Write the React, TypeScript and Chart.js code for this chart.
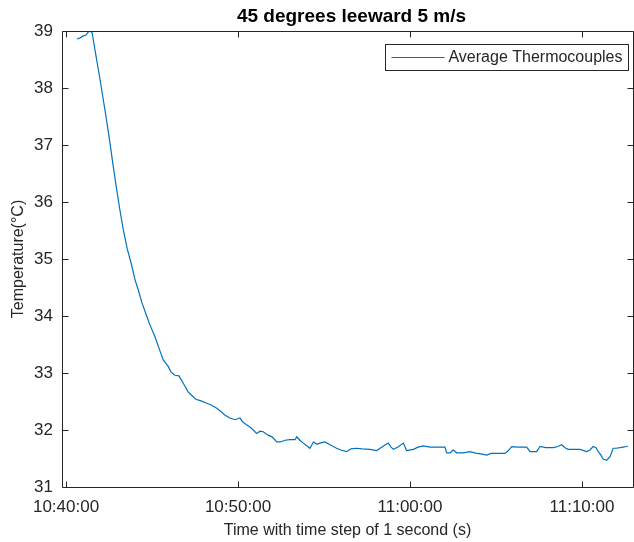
import React, { useEffect, useRef } from "react";
import { Chart, registerables } from "chart.js";

Chart.register(...registerables);

const chartTitle = "45 degrees leeward 5 m/s";
const seriesLabel = "Average Thermocouples";
const xAxisTitle = "Time with time step of 1 second (s)";
const yAxisTitle = "Temperature(°C)";

// Clock time of x = 0 (10:40:00), in seconds after midnight
const clockStart = 10 * 3600 + 40 * 60;

// Sample times, seconds after 10:40:00
const timeSeconds = [
  38, 49, 59, 70, 77, 84, 91, 101, 119, 136, 153, 164, 177, 188, 200, 213, 229,
  241, 252, 265, 282, 293, 310, 324, 339, 356, 366, 380, 394, 409, 426, 438, 453,
  471, 491, 506, 526, 541, 555, 572, 590, 607, 617, 630, 645, 665, 677, 688, 705,
  719, 735, 747, 764, 781, 799, 805, 816, 828, 841, 851, 863, 876, 886, 903, 921,
  944, 959, 979, 994, 1014, 1033, 1060, 1084, 1102, 1124, 1134, 1142, 1158, 1177,
  1188, 1212, 1228, 1246, 1270, 1293, 1322, 1328, 1340, 1351, 1363, 1385, 1409,
  1433, 1448, 1468, 1483, 1502, 1531, 1542, 1555, 1577, 1607, 1619, 1642, 1654,
  1674, 1700, 1716, 1729, 1741, 1752, 1772, 1793, 1816, 1828, 1839, 1849, 1857,
  1866, 1874, 1886, 1898, 1909, 1919, 1933, 1943, 1956, 1960,
];

// Average of the thermocouple readings, °C
const avgTemperature = [
  38.86, 38.88, 38.91, 38.93, 38.98, 39.0, 38.97, 38.67, 38.14, 37.61, 37.05,
  36.65, 36.21, 35.86, 35.51, 35.19, 34.89, 34.63, 34.46, 34.23, 33.99, 33.84,
  33.64, 33.44, 33.23, 33.12, 33.02, 32.96, 32.95, 32.82, 32.67, 32.61, 32.54,
  32.51, 32.47, 32.44, 32.38, 32.32, 32.26, 32.21, 32.18, 32.21, 32.14, 32.09,
  32.04, 31.94, 31.98, 31.97, 31.91, 31.88, 31.79, 31.79, 31.82, 31.83, 31.83,
  31.88, 31.82, 31.77, 31.72, 31.68, 31.79, 31.75, 31.77, 31.79, 31.74, 31.68,
  31.65, 31.62, 31.67, 31.68, 31.67, 31.66, 31.64, 31.7, 31.77, 31.7, 31.66,
  31.7, 31.77, 31.64, 31.66, 31.7, 31.72, 31.7, 31.7, 31.7, 31.6, 31.6, 31.65,
  31.6, 31.6, 31.62, 31.59, 31.58, 31.56, 31.59, 31.59, 31.59, 31.63, 31.71,
  31.7, 31.7, 31.62, 31.62, 31.71, 31.69, 31.69, 31.71, 31.74, 31.69, 31.66,
  31.66, 31.66, 31.62, 31.65, 31.71, 31.69, 31.62, 31.56, 31.49, 31.47, 31.53,
  31.68, 31.68, 31.69, 31.7, 31.71, 31.72,
];

const xTickSeconds = [0, 600, 1200, 1800];
const yTickValues = [31, 32, 33, 34, 35, 36, 37, 38, 39];
const xRange = [-14, 1978];
const yRange = [31, 39];

const FONT = '"Liberation Sans", Arial, Helvetica, sans-serif';
const AXIS_COLOR = "#262626";
const LINE_COLOR = "#0072BD";

function clockLabel(sec: number): string {
  const total = clockStart + sec;
  const h = Math.floor(total / 3600);
  const m = Math.floor((total % 3600) / 60);
  const s = total % 60;
  return `${h}:${String(m).padStart(2, "0")}:${String(s).padStart(2, "0")}`;
}

// Box frame with inward ticks on all four sides, title and boxed legend
const boxFramePlugin = {
  id: "boxFrame",
  afterDraw(chart: any) {
    const { ctx, chartArea: a, scales } = chart;
    const xs = scales.x;
    const ys = scales.y;
    const L = a.left + 0.5;
    const R = a.right + 0.5;
    const T = a.top + 0.5;
    const B = a.bottom + 0.5;
    const tickLen = 6;
    ctx.save();
    ctx.strokeStyle = AXIS_COLOR;
    ctx.lineWidth = 1;
    ctx.beginPath();
    ctx.rect(L, T, R - L, B - T);
    for (const t of xs.ticks) {
      const px = Math.round(xs.getPixelForValue(t.value)) + 0.5;
      ctx.moveTo(px, B);
      ctx.lineTo(px, B - tickLen);
      ctx.moveTo(px, T);
      ctx.lineTo(px, T + tickLen);
    }
    for (const t of ys.ticks) {
      const py = Math.round(ys.getPixelForValue(t.value)) + 0.5;
      ctx.moveTo(L, py);
      ctx.lineTo(L + tickLen, py);
      ctx.moveTo(R, py);
      ctx.lineTo(R - tickLen, py);
    }
    ctx.stroke();

    // title
    ctx.fillStyle = "#000";
    ctx.font = `bold 19px ${FONT}`;
    ctx.textAlign = "center";
    ctx.textBaseline = "alphabetic";
    ctx.fillText(chartTitle, (a.left + a.right) / 2 + 4, a.top - 9.5);

    // legend
    const ds = chart.data.datasets[0];
    ctx.font = `16px ${FONT}`;
    const tw = ctx.measureText(ds.label).width;
    const boxRight = a.right - 4.5;
    const textRight = boxRight - 6;
    const textLeft = textRight - tw;
    const sampleEnd = textLeft - 4;
    const sampleStart = sampleEnd - 53;
    const boxLeft = Math.round(sampleStart - 6) + 0.5;
    const boxTop = a.top + 13.5;
    const boxBottom = a.top + 39.5;
    const cy = (boxTop + boxBottom) / 2;
    ctx.fillStyle = "#fff";
    ctx.fillRect(boxLeft, boxTop, boxRight - boxLeft, boxBottom - boxTop);
    ctx.strokeStyle = AXIS_COLOR;
    ctx.strokeRect(boxLeft, boxTop, boxRight - boxLeft, boxBottom - boxTop);
    ctx.strokeStyle = ds.borderColor;
    ctx.lineWidth = ds.borderWidth;
    ctx.beginPath();
    ctx.moveTo(sampleStart, cy);
    ctx.lineTo(sampleEnd, cy);
    ctx.stroke();
    ctx.fillStyle = AXIS_COLOR;
    ctx.textAlign = "left";
    ctx.textBaseline = "middle";
    ctx.fillText(ds.label, textLeft, cy + 0.5);
    ctx.restore();
  },
};

export default function App() {
  const canvasRef = useRef<HTMLCanvasElement | null>(null);

  useEffect(() => {
    const canvas = canvasRef.current;
    if (!canvas) return;
    const points = timeSeconds.map((t, i) => ({ x: t, y: avgTemperature[i] }));
    const chart = new Chart(canvas, {
      type: "line",
      data: {
        datasets: [
          {
            label: seriesLabel,
            data: points,
            borderColor: LINE_COLOR,
            borderWidth: 1.2,
            pointRadius: 0,
            tension: 0,
            fill: false,
          },
        ],
      },
      options: {
        responsive: false,
        animation: false,
        devicePixelRatio: 1,
        layout: { padding: { top: 31, right: 1, left: 0, bottom: 0 } },
        plugins: {
          legend: { display: false },
          title: { display: false },
          tooltip: { enabled: false },
        },
        scales: {
          x: {
            type: "linear",
            min: xRange[0],
            max: xRange[1],
            afterBuildTicks: (s: any) => {
              s.ticks = xTickSeconds.map((v) => ({ value: v }));
            },
            afterFit: (s: any) => {
              s.height = 55;
              s.paddingLeft = 0;
              s.paddingRight = 0;
            },
            grid: { display: false, drawTicks: false, tickLength: 0 },
            border: { display: false },
            ticks: {
              color: AXIS_COLOR,
              font: { family: FONT, size: 17 },
              padding: 10,
              maxRotation: 0,
              autoSkip: false,
              callback: (v: any) => clockLabel(Number(v)),
            },
            title: {
              display: true,
              text: xAxisTitle,
              color: AXIS_COLOR,
              font: { family: FONT, size: 16 },
              padding: { top: 0, bottom: 2 },
            },
          },
          y: {
            type: "linear",
            min: yRange[0],
            max: yRange[1],
            afterBuildTicks: (s: any) => {
              s.ticks = yTickValues.map((v) => ({ value: v }));
            },
            afterFit: (s: any) => {
              s.width = 62;
            },
            grid: { display: false, drawTicks: false, tickLength: 0 },
            border: { display: false },
            ticks: {
              color: AXIS_COLOR,
              font: { family: FONT, size: 17 },
              padding: 9,
              autoSkip: false,
              callback: (v: any) => String(v),
            },
            title: {
              display: true,
              text: yAxisTitle,
              color: AXIS_COLOR,
              font: { family: FONT, size: 16 },
              padding: { top: 9, bottom: 0 },
            },
          },
        },
      },
      plugins: [boxFramePlugin],
    } as any);
    return () => chart.destroy();
  }, []);

  return (
    <div style={{ position: "fixed", left: 0, top: 0, width: 634, height: 542, background: "#fff" }}>
      <canvas ref={canvasRef} width={634} height={542} style={{ display: "block", width: 634, height: 542 }} />
    </div>
  );
}
